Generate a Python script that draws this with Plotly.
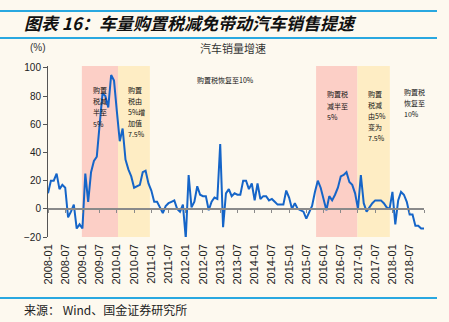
import plotly.graph_objects as go
import pandas as pd

# ---------------- data ----------------
months = [d.strftime("%Y-%m") for d in pd.date_range("2008-01-01", periods=132, freq="MS")]

sales_growth = [
    11, 20, 20, 25, 14, 17, 15, -6, -2, 3, -14, -11,      # 2008
    -14, 25, 5, 26, 34, 37, 60, 82, 80, 72, 95, 91,       # 2009
    69, 48, 57, 35, 28, 23, 15, 16, 17, 26, 27, 18,       # 2010
    13, 5, 5, 1, -3, 2, 4, 5, 6, 0, -2, 3,                # 2011
    -21, 24, 1, 5, 16, 10, 9, 9, -1, 5, 8, 7,             # 2012
    46, -13, 11, 14, 9, 11, 10, 10, 20, 20, 14, 18,       # 2013
    6, 18, 7, 9, 9, 6, 7, 5, 3, 3, 3, 13,                 # 2014
    8, 0, 4, 0, -1, -2, -7, -3, 2, 12, 20, 15,            # 2015
    7, -1, 9, 6, 10, 15, 23, 24, 26, 19, 17, 11,          # 2016
    0, 24, 4, -2, 1, 4, 6, 6, 6, 4, 1, 0,                 # 2017
    12, -11, 6, 12, 10, 5, -4, -4, -12, -12, -14, -14,    # 2018
]

tick_labels = months[::6]
y_ticks = [-20, 0, 20, 40, 60, 80, 100]

# policy periods (month index spans)
policy_bands = [
    (11.8, 24.4, "#FCCFC6"),
    (24.4, 35.5, "#FEEDC4"),
    (93.4, 107.8, "#FCCFC6"),
    (107.8, 119.1, "#FEEDC4"),
]

policy_notes = [
    ["购置", "税减", "半至", "5%"],
    ["购置", "税由", "5%增", "加值", "7.5%"],
    ["购置税恢复至10%"],
    ["购置税", "减半至", "5%"],
    ["购置", "税减", "由5%", "变为", "7.5%"],
    ["购置税", "恢复至", "10%"],
]

title_text = "图表 16：车量购置税减免带动汽车销售提速"
chart_title = "汽车销量增速"
unit_text = "(%)"
source_text = "来源： Wind、国金证券研究所"

# ---------------- layout geometry ----------------
W, H = 449, 322
L, R, T, B = 48, 25, 66, 85
PW, PH = W - L - R, H - T - B
Y_RANGE = [-20, 101.4]
X_RANGE = [0, len(months) - 1]


def xp(px):
    return (px - L) / PW


def yp(py):
    return (H - B - py) / PH


BG = "#FDF9EF"
BLUE_RULE = "#29A8E0"
CJK = "Noto Sans CJK SC"
LAT = "Liberation Sans, Arial"

fig = go.Figure()

fig.add_trace(go.Scatter(
    x=months, y=sales_growth, mode="lines",
    line=dict(color="#1565C8", width=2),
    showlegend=False, hoverinfo="skip",
))
# helper trace for the zero-line axis
fig.add_trace(go.Scatter(
    x=[0], y=[0], xaxis="x2", mode="markers",
    marker=dict(opacity=0), showlegend=False, hoverinfo="skip",
))

shapes = []
for x0, x1, col in policy_bands:
    shapes.append(dict(type="rect", xref="x", yref="paper", x0=x0, x1=x1, y0=0, y1=1,
                       fillcolor=col, line=dict(width=0), layer="below"))
for py in (11, 38, 298):
    shapes.append(dict(type="line", xref="paper", yref="paper",
                       x0=xp(0), x1=xp(437), y0=yp(py), y1=yp(py),
                       line=dict(color=BLUE_RULE, width=2)))

annotations = [
    dict(text="<b><i>" + title_text + "</i></b>", x=xp(22), y=yp(23),
         font=dict(family=CJK, size=17, color="#111"), xanchor="left"),
    dict(text=unit_text, x=xp(38), y=yp(48),
         font=dict(family=LAT, size=10, color="#333"), xanchor="center"),
    dict(text=chart_title, x=xp(233), y=yp(48),
         font=dict(family=CJK, size=11, color="#333"), xanchor="center"),
    dict(text=source_text, x=xp(22), y=yp(309),
         font=dict(family=CJK, size=12, color="#222"), xanchor="left"),
]

note_pos = [(90.5, 90, 11.2), (126, 90, 11.0), (195, 80, 11), (325, 94.3, 11.2),
            (365.7, 94.3, 10.9), (402.3, 91.7, 11.3)]
for lines, (nx, ny, dy) in zip(policy_notes, note_pos):
    for i, ln in enumerate(lines):
        annotations.append(dict(text=ln, x=xp(nx), y=yp(ny + i * dy), xanchor="left",
                                font=dict(family=CJK, size=7, color="#111")))

for a in annotations:
    a.update(xref="paper", yref="paper", yanchor="middle", showarrow=False)

fig.update_layout(
    width=W, height=H,
    margin=dict(l=L, r=R, t=T, b=B, pad=0),
    paper_bgcolor=BG, plot_bgcolor=BG,
    shapes=shapes, annotations=annotations,
    xaxis=dict(type="category", categoryorder="array", categoryarray=months,
               range=X_RANGE, showgrid=False, zeroline=False, showline=False,
               ticks="", tickmode="array", tickvals=tick_labels, ticktext=tick_labels,
               tickangle=-90, tickfont=dict(family=LAT, size=11, color="#222"),
               ticklabelstandoff=4),
    xaxis2=dict(overlaying="x", anchor="free", position=(0 - Y_RANGE[0]) / (Y_RANGE[1] - Y_RANGE[0]),
                range=X_RANGE, showgrid=False, zeroline=False, showline=True,
                linecolor="#8A8A8A", linewidth=1.5, ticks="outside", ticklen=3,
                tickcolor="#8A8A8A", tickwidth=1,
                tickmode="array", tickvals=list(range(0, len(months), 6)) + [len(months) - 1],
                showticklabels=False),
    yaxis=dict(range=Y_RANGE, showgrid=False, zeroline=False, showline=True,
               linecolor="#555", linewidth=1, ticks="outside", ticklen=4, tickcolor="#555",
               tickmode="array", tickvals=y_ticks,
               tickfont=dict(family=LAT, size=10, color="#222")),
)

fig.write_html("out.html")
